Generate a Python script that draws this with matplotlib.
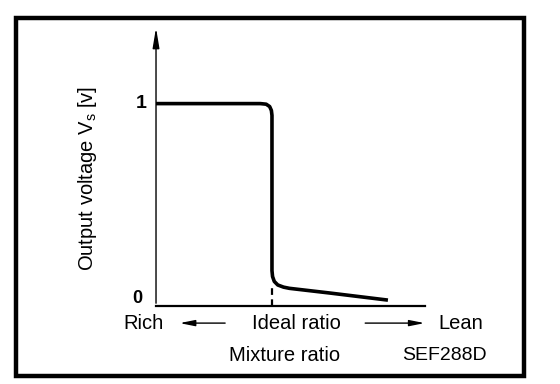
import matplotlib
matplotlib.use("Agg")
import matplotlib.pyplot as plt
from matplotlib.patches import Rectangle

# sensor output curve (x: mixture ratio, ideal ratio = 1; y: output voltage)
curve_x = [0.0, 0.90, 0.95, 0.98, 0.995, 1.0, 1.0, 1.005, 1.02, 1.05, 1.10, 1.15, 1.50, 2.0]
curve_y = [1.0, 1.0, 0.997, 0.985, 0.965, 0.94, 0.15, 0.12, 0.095, 0.077, 0.066, 0.06, 0.036, 0.0]

y_ticks = [0, 1]
y_tick_labels = ["0", "1"]
ideal_x = 1.0

plt.rcParams['font.family'] = ['Liberation Sans', 'DejaVu Sans']

fig = plt.figure(figsize=(5.6, 3.84), dpi=100)
fig.patch.set_facecolor('white')

# outer frame
fig.patches.append(Rectangle((0.0286, 0.0208), 0.908, 0.9336, transform=fig.transFigure,
                             fill=False, edgecolor='black', linewidth=3.2))

ax = fig.add_axes([0.2786, 0.2031, 0.4804, 0.7318])
ax.set_xlim(0, 2.32)
ax.set_ylim(-0.03, 1.40)
ax.axis('off')

# axes
ax.plot([0, 2.32], [-0.03, -0.03], color='black', lw=1.6, clip_on=False)
ax.annotate('', xy=(0, 1.40), xytext=(0, -0.03),
            arrowprops=dict(arrowstyle='-|>,head_length=1.2,head_width=0.2', color='black', lw=1.0),
            annotation_clip=False)

# curve
ax.plot(curve_x, curve_y, color='black', lw=2.6, solid_capstyle='butt', solid_joinstyle='round')

# ideal ratio marker
ax.plot([ideal_x, ideal_x], [-0.03, 0.075], color='black', lw=1.6, ls=(0, (3, 2)))

# tick labels
ax.text(-0.13, y_ticks[1], y_tick_labels[1], ha='center', va='center', fontsize=14, fontweight='bold')
ax.text(-0.16, y_ticks[0] + 0.01, y_tick_labels[0], ha='center', va='center', fontsize=13, fontweight='bold')

ax.text(-0.595, 0.62, 'Output voltage V$_\\mathregular{s}$ [v]', rotation=90,
        ha='center', va='center', fontsize=14.5)

# mixture labels
row = -0.117
ax.text(-0.11, row, 'Rich', ha='center', va='center', fontsize=14.5, clip_on=False)
ax.text(1.21, row, 'Ideal ratio', ha='center', va='center', fontsize=14.5, clip_on=False)
ax.text(2.63, row, 'Lean', ha='center', va='center', fontsize=14.5, clip_on=False)
ax.annotate('', xy=(0.18, row), xytext=(0.62, row),
            arrowprops=dict(arrowstyle='-|>,head_length=0.9,head_width=0.18', color='black', lw=1.0),
            annotation_clip=False)
ax.annotate('', xy=(2.34, row), xytext=(1.78, row),
            arrowprops=dict(arrowstyle='-|>,head_length=0.9,head_width=0.18', color='black', lw=1.0),
            annotation_clip=False)

ax.text(1.11, -0.28, 'Mixture ratio', ha='center', va='center', fontsize=14.5, clip_on=False)
ax.text(2.49, -0.28, 'SEF288D', ha='center', va='center', fontsize=14, clip_on=False)

fig.savefig('out.png', dpi=100)
